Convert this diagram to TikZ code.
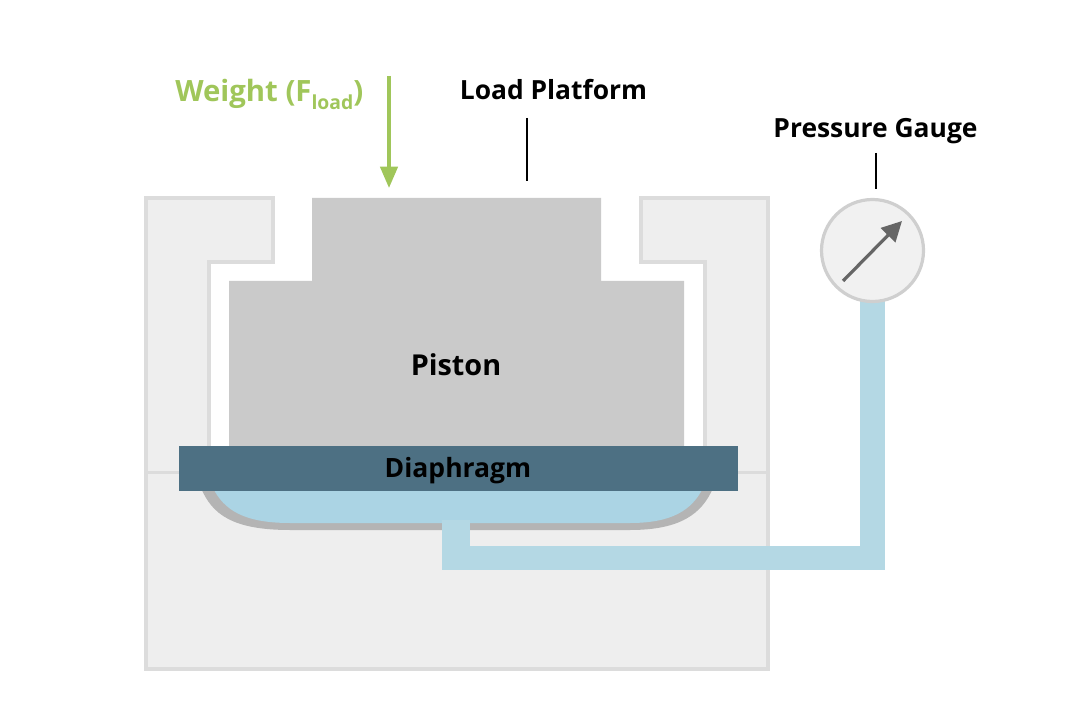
\documentclass[tikz,border=0pt]{standalone}
\usepackage{fontspec}
\setmainfont{Open Sans}
\usetikzlibrary{arrows.meta}
\definecolor{bodyfill}{HTML}{EEEEEE}
\definecolor{bodyline}{HTML}{DCDCDC}
\definecolor{pistonfill}{HTML}{CACACA}
\definecolor{diaphfill}{HTML}{4D7083}
\definecolor{fluidfill}{HTML}{ABD4E4}
\definecolor{pipefill}{HTML}{B4D8E4}
\definecolor{wallgrey}{HTML}{B4B4B4}
\definecolor{gaugeline}{HTML}{CFCFCF}
\definecolor{gaugefill}{HTML}{F1F1F1}
\definecolor{needle}{HTML}{666666}
\definecolor{weightgreen}{HTML}{A0C65A}
\tikzset{
  x=0.75pt,y=-0.75pt,
  lbl/.style={font=\fontsize{19.8pt}{23pt}\selectfont\bfseries,text=black,inner sep=0pt,anchor=center},
  leader/.style={draw=black,line width=1.7pt},
  body/.style={fill=bodyfill,draw=bodyline,line width=2.4pt,line join=miter},
}
\begin{document}
\begin{tikzpicture}
\useasboundingbox (0,0) rectangle (1080,716);
% housing
\draw[body] (146,198)--(273,198)--(273,262)--(209,262)--(209,460)--(705,460)--(705,262)--(641,262)--(641,198)--(768,198)--(768,669)--(146,669)--cycle;
\draw[draw=bodyline,line width=2.7pt] (146,472.5)--(768,472.5);
% diaphragm cavity
\fill[wallgrey] (201,488) .. controls (212,514) and (232,530) .. (290,530)
  -- (630,530) .. controls (680,530) and (702,514) .. (713,488) -- cycle;
\fill[fluidfill] (213,488) .. controls (224,510) and (244,523) .. (290,523)
  -- (630,523) .. controls (672,523) and (692,510) .. (703,488) -- cycle;
% pipe
\coordinate (stubTop) at (456,520);
\coordinate (pipeBend) at (456,570);
\draw[pipefill,line width=21pt] (stubTop)--(pipeBend);
\coordinate (pipeStart) at (456,558);
\coordinate (pipeCorner) at (872.5,558);
\coordinate (pipeEnd) at (872.5,300);
\draw[pipefill,line width=18.4pt,line join=miter] (pipeStart)--(pipeCorner)--(pipeEnd);
% piston
\fill[pistonfill] (312,198)--(601,198)--(601,281)--(684,281)--(684,447)--(229,447)--(229,281)--(312,281)--cycle;
\node[lbl,font=\fontsize{21.6pt}{25pt}\selectfont\bfseries] (piston) at (456,365) {Piston};
% diaphragm
\node[fill=diaphfill,minimum width=419.25pt,minimum height=33.75pt,inner sep=0pt,anchor=north west] (diaph) at (179,446) {};
\node[lbl,font=\fontsize{19.9pt}{24pt}\selectfont\bfseries] (diaphLabel) at (458,470.5) {Diaphragm};
% gauge
\node[circle,draw=gaugeline,fill=gaugefill,line width=2.4pt,minimum size=76.5pt,inner sep=0pt] (gauge) at (872.5,250.5) {};
\coordinate (needleTail) at (843,281);
\coordinate (needleTip) at (902,221);
\draw[needle,line width=2.4pt,-{Triangle[length=15pt,width=15pt]}] (needleTail)--(needleTip);
% labels and leaders
\node[lbl] (pg) at (875.5,131) {Pressure Gauge};
\coordinate (pgA) at (876,153);
\coordinate (pgB) at (876,189);
\draw[leader] (pgA)--(pgB);
\node[lbl] (lp) at (553.5,89.5) {Load Platform};
\coordinate (lpA) at (527,118);
\coordinate (lpB) at (527,181);
\draw[leader] (lpA)--(lpB);
\node[lbl,text=weightgreen,font=\fontsize{22pt}{24pt}\selectfont\bfseries,anchor=base west] (wt) at (175,102) {Weight (F{\fontsize{14.5pt}{16pt}\selectfont\raisebox{-5.5pt}{load}})};
\coordinate (wtA) at (389,76);
\coordinate (wtB) at (389,188);
\draw[weightgreen,line width=2.6pt,-{Triangle[length=16pt,width=13pt]}] (wtA)--(wtB);
\end{tikzpicture}
\end{document}
